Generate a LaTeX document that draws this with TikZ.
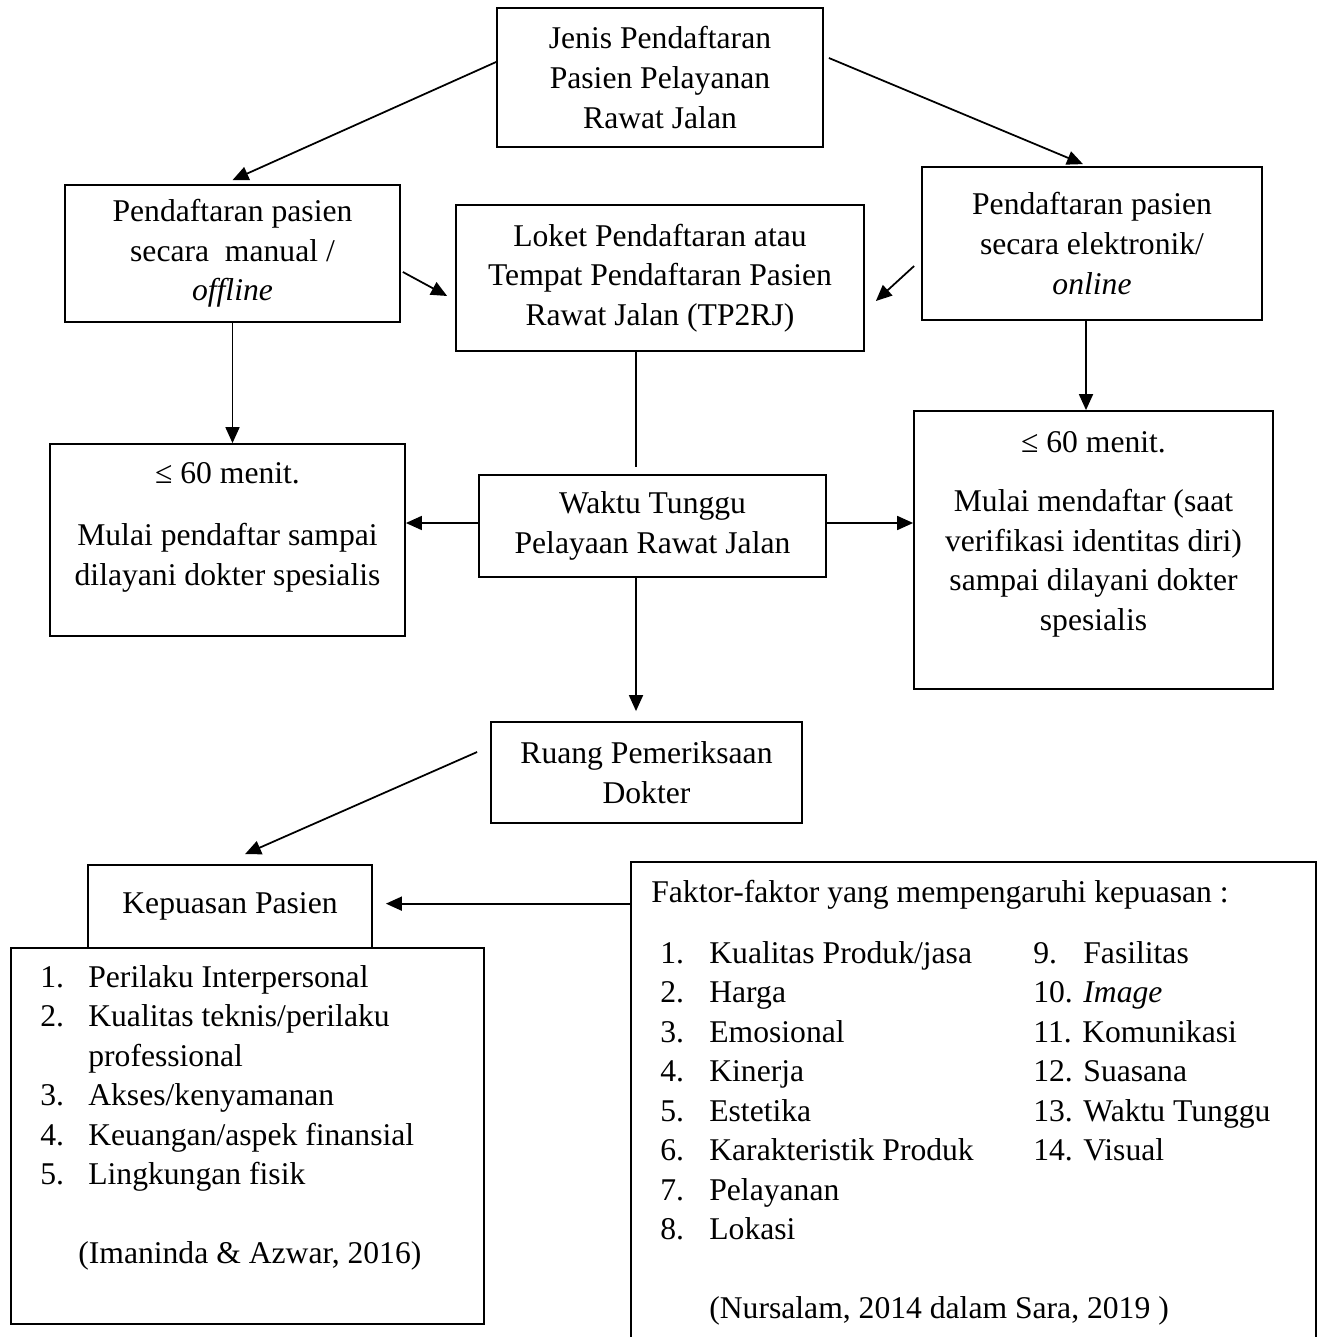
\documentclass[tikz,border=0pt]{standalone}
\usepackage{fontspec}
\setmainfont{Liberation Serif}
\usetikzlibrary{arrows.meta}

\tikzset{
	box/.style={draw, line width=1pt, align=center, inner sep=0pt},
	arr/.style={line width=1pt, -{Triangle[length=0.32cm,width=0.28cm]}},
	lin/.style={line width=1pt},
	txt/.style={inner sep=0pt, anchor=base}
}

\begin{document}
\begin{tikzpicture}[every node/.style={font=\fontsize{18}{22.5}\selectfont}]
	\useasboundingbox (0,0) rectangle (26.44,-26.74);

	\node[box, minimum width=6.52cm, minimum height=2.78cm] (jenis) at (13.20,-1.55) {Jenis Pendaftaran\\Pasien Pelayanan\\Rawat Jalan};
	\node[box, minimum width=6.70cm, minimum height=2.74cm] (manual) at (4.65,-5.07) {Pendaftaran pasien\\secara~ manual /\\\textit{offline}};
	\node[box, minimum width=8.16cm, minimum height=2.92cm] (loket) at (13.20,-5.56) {Loket Pendaftaran atau\\Tempat Pendaftaran Pasien\\Rawat Jalan (TP2RJ)};
	\node[box, minimum width=6.80cm, minimum height=3.06cm] (online) at (21.84,-4.87) {Pendaftaran pasien\\secara elektronik/\\\textit{online}};
	\node[box, minimum width=7.10cm, minimum height=3.84cm] (menitL) at (4.55,-10.80) {};
	\node[box, minimum width=6.94cm, minimum height=2.04cm] (waktu) at (13.05,-10.52) {Waktu Tunggu\\Pelayaan Rawat Jalan};
	\node[box, minimum width=7.18cm, minimum height=5.56cm] (menitR) at (21.87,-11.00) {};
	\node[box, minimum width=6.22cm, minimum height=2.02cm] (ruang) at (12.93,-15.45) {Ruang Pemeriksaan\\Dokter};
	\node[box, minimum width=5.68cm, minimum height=1.66cm] (kepuasan) at (4.60,-18.13) {Kepuasan Pasien};
	\node[box, minimum width=9.46cm, minimum height=7.52cm] (kepList) at (4.95,-22.72) {};
	\node[inner sep=0pt, minimum width=13.70cm, minimum height=9.50cm] (faktor) at (19.47,-21.99) {};
	\draw[lin] (faktor.south west) -- (faktor.north west) -- (faktor.north east) -- (faktor.south east);

	\node[txt] (menitLtxt) at (4.55,-9.66) {\begin{tabular}[t]{@{}c@{}}≤ 60 menit.\\[0.46cm]Mulai pendaftar sampai\\dilayani dokter spesialis\end{tabular}};
	\node[txt] (menitRtxt) at (21.87,-9.04) {\begin{tabular}[t]{@{}c@{}}≤ 60 menit.\\[0.40cm]Mulai mendaftar (saat\\verifikasi identitas diri)\\sampai dilayani dokter\\spesialis\end{tabular}};
	\node[txt, anchor=base west] (kepItems) at (0.80,-19.74) {\begin{tabular}[t]{@{}p{0.96cm}@{}l@{}}
		1. & Perilaku Interpersonal\\
		2. & Kualitas teknis/perilaku\\
		 & professional\\
		3. & Akses/kenyamanan\\
		4. & Keuangan/aspek finansial\\
		5. & Lingkungan fisik\\[22.5pt]
		\multicolumn{2}{@{}l@{}}{\hspace{0.76cm}(Imaninda \& Azwar, 2016)}
	\end{tabular}};
	\node[txt, anchor=base west] (faktorTitle) at (13.02,-18.04) {Faktor-faktor yang mempengaruhi kepuasan :};
	\node[txt, anchor=base west] (faktorItems) at (13.20,-19.26) {\begin{tabular}[t]{@{}p{0.98cm}@{}p{6.48cm}@{}p{1.0cm}@{}l@{}}
		1. & Kualitas Produk/jasa & 9. & Fasilitas\\
		2. & Harga & \multicolumn{2}{@{}l@{}}{10. \textit{Image}}\\
		3. & Emosional & \multicolumn{2}{@{}l@{}}{11. Komunikasi}\\
		4. & Kinerja & \multicolumn{2}{@{}l@{}}{12. Suasana}\\
		5. & Estetika & \multicolumn{2}{@{}l@{}}{13. Waktu Tunggu}\\
		6. & Karakteristik Produk & \multicolumn{2}{@{}l@{}}{14. Visual}\\
		7. & Pelayanan & & \\
		8. & Lokasi & & \\[22.5pt]
		 & \multicolumn{3}{@{}l@{}}{(Nursalam, 2014 dalam Sara, 2019 )}
	\end{tabular}};

	\draw[arr] ([yshift=0.31cm]jenis.west) -- ([yshift=0.08cm]manual.north);
	\draw[arr] ([xshift=0.1cm,yshift=0.39cm]jenis.east) -- ([xshift=-0.18cm,yshift=0.04cm]online.north);
	\draw[arr] ([xshift=0.04cm,yshift=-0.37cm]manual.east) -- ([xshift=-0.16cm,yshift=-0.36cm]loket.west);
	\draw[arr] ([xshift=-0.14cm,yshift=-0.45cm]online.west) -- ([xshift=0.22cm,yshift=-0.46cm]loket.east);
	\draw[arr] (manual.south) -- (manual.south |- menitL.north);
	\draw[arr] ([xshift=-0.12cm]online.south) -- ([xshift=-0.12cm]online.south |- menitR.north);
	\draw[lin, shorten >=0.14cm] ([xshift=-0.48cm]loket.south) -- ([xshift=-0.48cm]loket.south |- waktu.north);
	\draw[arr] ([yshift=0.06cm]waktu.west) -- ([yshift=0.06cm]waktu.west -| menitL.east);
	\draw[arr] ([yshift=0.06cm]waktu.east) -- ([yshift=0.06cm]waktu.east -| menitR.west);
	\draw[arr, shorten >=0.2cm] ([xshift=-0.33cm]waktu.south) -- ([xshift=-0.33cm]waktu.south |- ruang.north);
	\draw[arr] ([xshift=-0.26cm,yshift=0.41cm]ruang.west) -- ([xshift=0.30cm,yshift=0.20cm]kepuasan.north);
	\draw[arr, shorten >=0.26cm] ([yshift=-0.84cm]faktor.north west) -- ([yshift=-0.84cm]faktor.north west -| kepuasan.east);
\end{tikzpicture}
\end{document}
